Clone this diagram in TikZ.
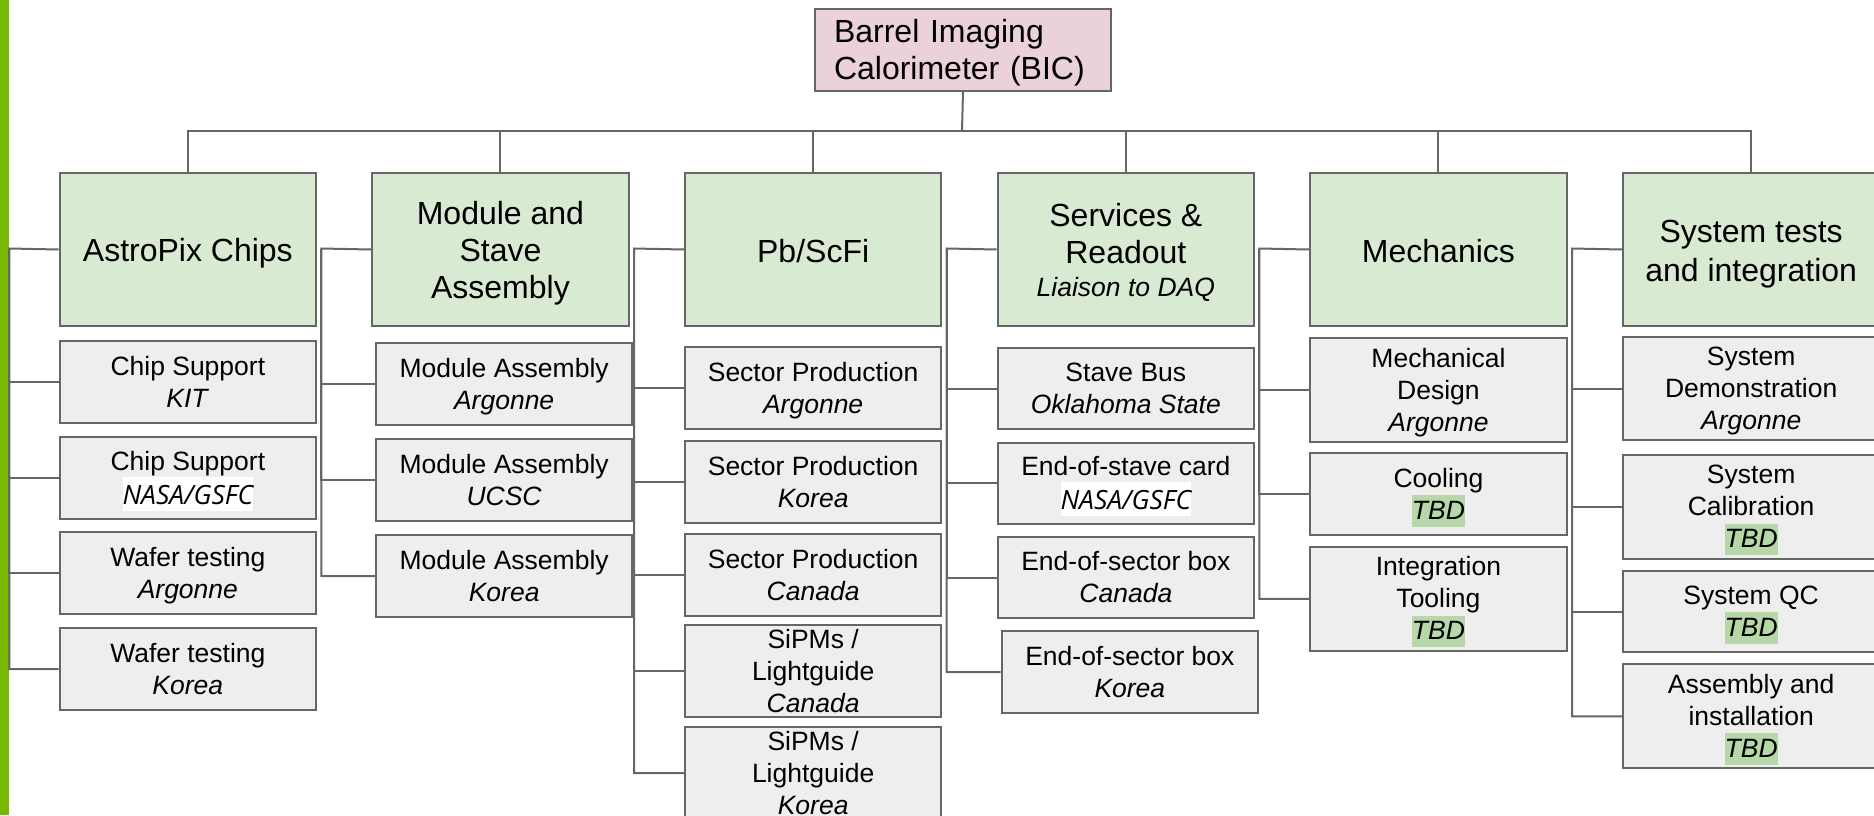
\documentclass[tikz,border=0pt]{standalone}
\usepackage{fontspec}
\setmainfont{Liberation Sans}
\newfontfamily\nasafont{Open Sans}
\usetikzlibrary{calc}
\definecolor{lc}{HTML}{666666}
\definecolor{mainfill}{HTML}{D9EAD3}
\definecolor{childfill}{HTML}{EEEEEE}
\definecolor{topfill}{HTML}{EAD1DC}
\definecolor{tbdg}{HTML}{B6D7A8}
\definecolor{barg}{HTML}{76B900}
\setlength{\fboxsep}{0pt}
\setlength{\lineskip}{0pt}
\newcommand\cst{\rule[-6.7pt]{0pt}{32pt}}
\newcommand\mst{\rule[-5.5pt]{0pt}{37pt}}
\newcommand\orgname[1]{\textit{#1}}
\newcommand\tbd{\colorbox{tbdg}{\rule[-7.4pt]{0pt}{31.7pt}\textit{TBD}}}
\newcommand\nasa{\colorbox{white}{\rule[-6.7pt]{0pt}{34pt}{\nasafont\itshape NASA/GSFC}}}
\tikzset{
  conn/.style={draw=lc, line width=2pt},
  mainbox/.style={draw=lc, fill=mainfill, line width=2pt, anchor=north west,
    minimum width=256.3pt, minimum height=153pt, inner sep=0pt, align=center,
    font=\fontsize{32}{37}\selectfont},
  childbox/.style={draw=lc, fill=childfill, line width=2pt, anchor=north west,
    minimum width=256.3pt, inner sep=0pt, align=center,
    font=\fontsize{26.5}{32}\selectfont},
  topbox/.style={draw=lc, fill=topfill, line width=2pt, anchor=north west,
    minimum width=296pt, minimum height=82pt, text width=258pt, inner xsep=19pt,
    inner ysep=0pt, align=left, font=\fontsize{32}{37}\selectfont}
}
\begin{document}
\begin{tikzpicture}[x=1pt,y=-1pt]
\useasboundingbox (0,0) rectangle (1874,815);
\fill[barg] (0,0) rectangle (8.5,815);

% top
\node[topbox] (top) at (814,8) {\rule{0pt}{29.5pt}Barrel Imaging\\Calorimeter (BIC)};

% main boxes
\node[mainbox] (m1) at (58.7,172) {\mst AstroPix Chips};
\node[mainbox] (m2) at (371.3,172) {\mst Module and\\Stave\\Assembly\mst};
\node[mainbox] (m3) at (684,172) {\mst Pb/ScFi};
\node[mainbox] (m4) at (996.7,172) {\mst Services \&\\Readout\\[-4pt]{\fontsize{26.5}{32}\selectfont\itshape Liaison to DAQ\cst}};
\node[mainbox] (m5) at (1309.3,172) {\mst Mechanics};
\node[mainbox] (m6) at (1622,172) {\mst System tests\\and integration\mst};

% column 1
\node[childbox, minimum height=82pt] (c11) at (58.7,340) {\cst Chip Support\\\orgname{KIT}\cst};
\node[childbox, minimum height=82pt] (c12) at (58.7,436) {\cst Chip Support\\\nasa\cst};
\node[childbox, minimum height=82pt] (c13) at (58.7,531) {\cst Wafer testing\\\orgname{Argonne}\cst};
\node[childbox, minimum height=82pt] (c14) at (58.7,627) {\cst Wafer testing\\\orgname{Korea}\cst};

% column 2
\node[childbox, minimum height=82pt] (c21) at (375,342) {\cst Module Assembly\\\orgname{Argonne}\cst};
\node[childbox, minimum height=82pt] (c22) at (375,438) {\cst Module Assembly\\\orgname{UCSC}\cst};
\node[childbox, minimum height=82pt] (c23) at (375,534) {\cst Module Assembly\\\orgname{Korea}\cst};

% column 3
\node[childbox, minimum height=82pt] (c31) at (684,346) {\cst Sector Production\\\orgname{Argonne}\cst};
\node[childbox, minimum height=82pt] (c32) at (684,440) {\cst Sector Production\\\orgname{Korea}\cst};
\node[childbox, minimum height=82pt] (c33) at (684,533) {\cst Sector Production\\\orgname{Canada}\cst};
\node[childbox, minimum height=92pt] (c34) at (684,624) {SiPMs /\\Lightguide\\\orgname{Canada}};
\node[childbox, minimum height=92pt] (c35) at (684,726) {SiPMs /\\Lightguide\\\orgname{Korea}};

% column 4
\node[childbox, minimum height=81pt] (c41) at (996.7,347) {\cst Stave Bus\\\orgname{Oklahoma State}\cst};
\node[childbox, minimum height=81pt] (c42) at (996.7,441.7) {\cst End-of-stave card\\\nasa\cst};
\node[childbox, minimum height=81.3pt] (c43) at (996.7,536) {\cst End-of-sector box\\\orgname{Canada}\cst};
\node[childbox, minimum height=82.3pt] (c44) at (1000.7,630) {\cst End-of-sector box\\\orgname{Korea}\cst};

% column 5
\node[childbox, minimum height=104.3pt] (c51) at (1309.3,336.7) {\cst Mechanical\\Design\\\orgname{Argonne}\cst};
\node[childbox, minimum height=82pt] (c52) at (1309.3,452.3) {\cst Cooling\\\tbd\cst};
\node[childbox, minimum height=104.3pt] (c53) at (1309.3,545.7) {\cst Integration\\Tooling\\\tbd\cst};

% column 6
\node[childbox, minimum height=103.6pt] (c61) at (1622,335.7) {\cst System\\Demonstration\\\orgname{Argonne}\cst};
\node[childbox, minimum height=103.7pt] (c62) at (1622,454) {\cst System\\Calibration\\\tbd\cst};
\node[childbox, minimum height=81pt] (c63) at (1622,570) {\cst System QC\\\tbd\cst};
\node[childbox, minimum height=104pt] (c64) at (1622,663.3) {\cst Assembly and\\installation\\\tbd\cst};

% connectors: top to main
\coordinate (bus) at (962,131);
\draw[conn] (top.south) -- (bus);
\foreach \m in {m1,m2,m3,m4,m5,m6} \draw[conn] (bus) -| (\m.north);

% spines
\coordinate (s1) at (9.3,248.5);
\draw[conn] (m1.west) -- (s1) |- (c14.west);
\foreach \c in {c11,c12,c13} \draw[conn] (s1) |- (\c.west);

\coordinate (s2) at (321.3,248.5);
\draw[conn] (m2.west) -- (s2) |- (c23.west);
\foreach \c in {c21,c22} \draw[conn] (s2) |- (\c.west);

\coordinate (s3) at (634,248.5);
\draw[conn] (m3.west) -- (s3) |- (c35.west);
\foreach \c in {c31,c32,c33,c34} \draw[conn] (s3) |- (\c.west);

\coordinate (s4) at (946.7,248.5);
\draw[conn] (m4.west) -- (s4) |- (c44.west);
\foreach \c in {c41,c42,c43} \draw[conn] (s4) |- (\c.west);

\coordinate (s5) at (1259.3,248.5);
\draw[conn] (m5.west) -- (s5) |- (c53.west);
\foreach \c in {c51,c52} \draw[conn] (s5) |- (\c.west);

\coordinate (s6) at (1572,248.5);
\draw[conn] (m6.west) -- (s6) |- (c64.west);
\foreach \c in {c61,c62,c63} \draw[conn] (s6) |- (\c.west);
\end{tikzpicture}
\end{document}
